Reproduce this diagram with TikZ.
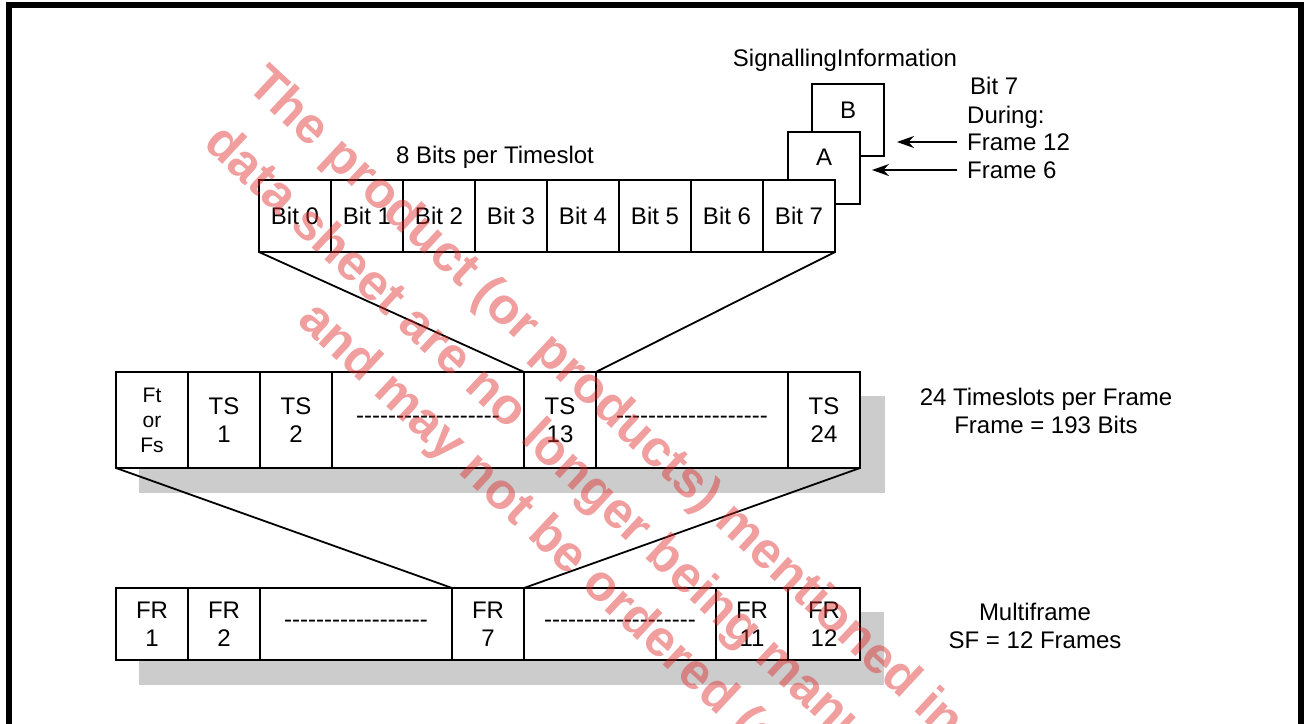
\documentclass[tikz,border=0pt]{standalone}
\usepackage{fontspec}
\setmainfont{Liberation Sans}
\usetikzlibrary{arrows.meta, positioning, calc, backgrounds}
\definecolor{shadowgray}{RGB}{204, 204, 204}
\definecolor{markred}{RGB}{222, 40, 40}
\newcommand{\dashtxt}[1]{\foreach \k in {1,...,#1}{-\kern0pt}}
\tikzset{
  >=Stealth,
  cellbox/.style={draw, fill=white, line width=1.8pt, inner sep=0pt, outer sep=0pt, minimum width=72pt, minimum height=72pt, align=center, font=\fontsize{24}{28.5}\selectfont},
  bitcell/.style={cellbox},
  tscell/.style={cellbox, minimum height=96pt},
  tsgap/.style={tscell, minimum width=192pt},
  frcell/.style={cellbox},
  frgap/.style={frcell, minimum width=192pt},
  sigbox/.style={draw, fill=white, line width=1.8pt, inner sep=0pt, outer sep=0pt, minimum width=72pt, minimum height=72pt},
  lbl/.style={inner sep=0pt, align=center, font=\fontsize{24}{28.5}\selectfont},
  frameline/.style={line width=1.8pt},
  sigarrow/.style={-{Stealth[length=17pt, width=12pt]}, line width=1.8pt},
  watermark/.style={inner sep=0pt, anchor=base west, rotate=-43, text=markred, text opacity=0.45, font=\fontsize{51}{57}\selectfont\bfseries}
}

\begin{document}
\begin{tikzpicture}[x=1pt, y=-1pt]
    \useasboundingbox (0,0) rectangle (1304,723);
    \draw[line width=6pt] (9,730) -- (9,4.5) -- (1301,4.5) -- (1301,730);

    % signalling bits, stacked behind bit 7
    \node[sigbox, anchor=north west] (sigB) at (812,84) {};
    \node[lbl] (sigBtxt) at ([yshift=10pt]sigB.center) {B};
    \node[sigbox, anchor=north west] (sigA) at (788,132) {};
    \node[lbl] (sigAtxt) at ([yshift=11pt]sigA.center) {A};
    \node[lbl] (siginfo) at (845,60) {SignallingInformation};
    \node[lbl, anchor=west] (bit7txt) at (970,86) {Bit 7};
    \node[lbl, anchor=west] (during) at (967,117) {During:};
    \node[lbl, anchor=west] (fr12txt) at (967,142) {Frame 12};
    \node[lbl, anchor=west] (fr6txt) at (967,170) {Frame 6};

    % bits of one timeslot
    \node[lbl] (bitsper) at (495,157) {8 Bits per Timeslot};
    \node[bitcell, anchor=north west] (bit0) at (259,180) {Bit 0};
    \node[bitcell, right=0pt of bit0] (bit1) {Bit 1};
    \node[bitcell, right=0pt of bit1] (bit2) {Bit 2};
    \node[bitcell, right=0pt of bit2] (bit3) {Bit 3};
    \node[bitcell, right=0pt of bit3] (bit4) {Bit 4};
    \node[bitcell, right=0pt of bit4] (bit5) {Bit 5};
    \node[bitcell, right=0pt of bit5] (bit6) {Bit 6};
    \node[bitcell, right=0pt of bit6] (bit7) {Bit 7};

    % timeslots of one frame
    \node[tscell, anchor=north west, font=\fontsize{21}{25}\selectfont] (ftfs) at (116,372) {Ft\\or\\Fs};
    \node[tscell, right=0pt of ftfs] (ts1) {TS\\1};
    \node[tscell, right=0pt of ts1] (ts2) {TS\\2};
    \node[tsgap, right=0pt of ts2] (tsgapa) {\dashtxt{18}};
    \node[tscell, right=0pt of tsgapa] (ts13) {TS\\13};
    \node[tsgap, right=0pt of ts13] (tsgapb) {\dashtxt{19}};
    \node[tscell, right=0pt of tsgapb] (ts24) {TS\\24};
    \node[lbl] (tsnote) at (1046,411) {24 Timeslots per Frame\\Frame = 193 Bits};

    % frames of one multiframe
    \node[frcell, anchor=north west] (fr1) at (116,588) {FR\\1};
    \node[frcell, right=0pt of fr1] (fr2) {FR\\2};
    \node[frgap, right=0pt of fr2] (frgapa) {\dashtxt{18}};
    \node[frcell, right=0pt of frgapa] (fr7) {FR\\7};
    \node[frgap, right=0pt of fr7] (frgapb) {\dashtxt{19}};
    \node[frcell, right=0pt of frgapb] (fr11) {FR\\11};
    \node[frcell, right=0pt of fr11] (fr12) {FR\\12};
    \node[lbl] (frnote) at (1035,626) {Multiframe\\SF = 12 Frames};

    \begin{scope}[on background layer]
        \fill[shadowgray] ($(ftfs.north west)+(23,24)$) rectangle ($(ts24.south east)+(25,25)$);
        \fill[shadowgray] ($(fr1.north west)+(23,24)$) rectangle ($(fr12.south east)+(24,25)$);
    \end{scope}

    \draw[frameline] (bit0.south west) -- (ts13.north west);
    \draw[frameline] (bit7.south east) -- (ts13.north east);
    \draw[frameline] (ftfs.south west) -- (fr7.north west);
    \draw[frameline] (ts24.south east) -- (fr7.north east);

    \draw[sigarrow, shorten <=10pt, shorten >=13pt] (fr12txt.west) -- (fr12txt.west -| sigB.east);
    \draw[sigarrow, shorten <=10pt, shorten >=12pt] (fr6txt.west) -- (fr6txt.west -| sigA.east);

    % watermark
    \begin{scope}
        \clip (0,0) rectangle (1304,723);
        \node[watermark] (wm1) at (245,87) {The product (or products) mentioned in};
        \node[watermark] (wm2) at (202,145) {data sheet are no longer being manu};
        \node[watermark] (wm3) at (296,322) {and may not be ordered (e};
    \end{scope}
\end{tikzpicture}
\end{document}
